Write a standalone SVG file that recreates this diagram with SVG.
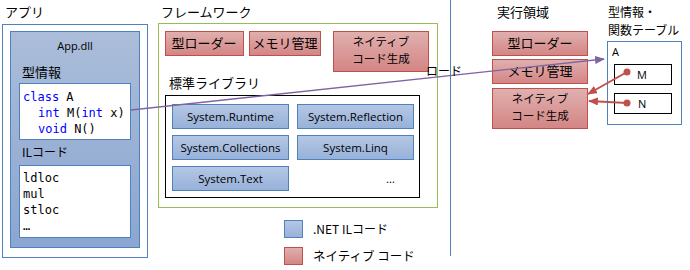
<svg xmlns="http://www.w3.org/2000/svg" width="690" height="270" viewBox="0 0 690 270">
<defs>
<linearGradient id="gBlue" x1="0" y1="0" x2="0" y2="1"><stop offset="0" stop-color="#b5c7e4"/><stop offset="1" stop-color="#97b1d9"/></linearGradient>
<linearGradient id="gRed" x1="0" y1="0" x2="0" y2="1"><stop offset="0" stop-color="#e0b0af"/><stop offset="1" stop-color="#d38584"/></linearGradient>
<linearGradient id="gDll" x1="0" y1="0" x2="0" y2="1"><stop offset="0" stop-color="#abbdd9"/><stop offset="1" stop-color="#8aa6d1"/></linearGradient>
<marker id="arP" markerWidth="10" markerHeight="8" refX="9" refY="4" orient="auto" markerUnits="userSpaceOnUse"><path d="M0,0 L10,4 L0,8 Z" fill="#8064a2"/></marker>
<marker id="arR" markerWidth="10" markerHeight="8" refX="9" refY="4" orient="auto" markerUnits="userSpaceOnUse"><path d="M0,0 L10,4 L0,8 Z" fill="#c0504d"/></marker>
</defs>
<style>
text{font-family:"Noto Sans CJK JP","Noto Sans",sans-serif;fill:#000}
.h{font-size:13px}
.h2{font-size:11.5px}
.lat{font-family:"Open Sans","Noto Sans",sans-serif;font-size:11.5px}
.code{font-family:"DejaVu Sans Mono","Liberation Mono",monospace;font-size:12px}
.kw{fill:#0000ff}
.il{fill:url(#gBlue);stroke:#4f81bd;stroke-width:1}
.nat{fill:url(#gRed);stroke:#c0504d;stroke-width:1}
.wb{fill:#fff;stroke:#4f81bd;stroke-width:1}
.bk{fill:#fff;stroke:#000;stroke-width:1}
.c{text-anchor:middle}
</style>
<rect width="690" height="270" fill="#fff"/>

<g id="app">
<text class="h" x="5" y="17">アプリ</text>
<rect x="2.5" y="24.5" width="145" height="233" fill="#fff" stroke="#4f81bd"/>
<rect x="10.5" y="31.5" width="129" height="216" fill="url(#gDll)" stroke="#4f81bd"/>
<text class="lat c" x="75" y="50" style="font-size:11px">App.dll</text>
<text class="h" x="22" y="77">型情報</text>
<rect class="wb" x="19.5" y="83.5" width="111" height="56"/>
<text class="code" x="23" y="101"><tspan class="kw">class</tspan> A</text>
<text class="code" x="38" y="117"><tspan class="kw">int</tspan> M(<tspan class="kw">int</tspan> x)</text>
<text class="code" x="38" y="133"><tspan class="kw">void</tspan> N()</text>
<text x="22" y="157" style="font-size:12px">ILコード</text>
<rect class="wb" x="19.5" y="165.5" width="111" height="72"/>
<text class="code" x="23" y="182">ldloc</text>
<text class="code" x="23" y="198">mul</text>
<text class="code" x="23" y="214">stloc</text>
<text class="code" x="23" y="230">…</text>
</g>

<g id="framework">
<text class="h" x="161" y="17">フレームワーク</text>
<rect x="158.5" y="23.5" width="279" height="184" fill="#fff" stroke="#9bbb59"/>
<rect class="nat" x="165.5" y="31.5" width="78" height="24"/>
<text class="h c" x="204" y="48">型ローダー</text>
<rect class="nat" x="249.5" y="31.5" width="71" height="24"/>
<text class="h c" x="285" y="48">メモリ管理</text>
<rect class="nat" x="333.5" y="31.5" width="95" height="40"/>
<text class="h2 c" x="381" y="46">ネイティブ<tspan x="381" dy="17">コード生成</tspan></text>
<text class="h" x="169" y="88">標準ライブラリ</text>
<rect class="bk" x="165.5" y="95.5" width="254" height="102"/>
<rect class="il" x="172.5" y="104.5" width="116" height="24"/>
<text class="lat c" x="230.5" y="120.5">System.Runtime</text>
<rect class="il" x="297.5" y="104.5" width="116" height="24"/>
<text class="lat c" x="355.5" y="120.5">System.Reflection</text>
<rect class="il" x="172.5" y="135.5" width="116" height="24"/>
<text class="lat c" x="230.5" y="151.5">System.Collections</text>
<rect class="il" x="297.5" y="135.5" width="116" height="24"/>
<text class="lat c" x="355.5" y="151.5">System.Linq</text>
<rect class="il" x="172.5" y="166.5" width="116" height="24"/>
<text class="lat c" x="230.5" y="182.5">System.Text</text>
<text class="lat" x="386" y="183">…</text>
</g>

<g id="legend">
<rect class="il" x="284.5" y="220.5" width="18" height="17"/>
<text x="313" y="234" style="font-size:12px">.NET ILコード</text>
<rect class="nat" x="284.5" y="247.5" width="18" height="17"/>
<text x="313" y="261" style="font-size:12.5px">ネイティブ コード</text>
</g>

<line x1="450.5" y1="0" x2="450.5" y2="256" stroke="#4f81bd" stroke-width="1"/>

<g id="runtime">
<text class="h" x="497" y="17">実行領域</text>
<rect class="nat" x="492.5" y="31.5" width="95" height="24"/>
<text class="h c" x="540" y="48">型ローダー</text>
<rect class="nat" x="492.5" y="59.5" width="95" height="24"/>
<text class="h c" x="540" y="76">メモリ管理</text>
<rect class="nat" x="492.5" y="88.5" width="95" height="40"/>
<text class="h2 c" x="540" y="103">ネイティブ<tspan x="540" dy="17">コード生成</tspan></text>
</g>

<g id="typetable">
<text class="h2" x="608" y="17" style="font-size:12px">型情報・<tspan x="608" dy="17.5">関数テーブル</tspan></text>
<rect class="wb" x="607.5" y="41.5" width="74" height="83"/>
<text class="lat" x="612" y="56" style="font-size:11px">A</text>
<rect class="bk" x="614.5" y="64.5" width="57" height="20"/>
<text class="lat" x="637" y="79" style="font-size:11px">M</text>
<rect class="bk" x="614.5" y="93.5" width="57" height="20"/>
<text class="lat" x="638" y="108" style="font-size:11px">N</text>
</g>

<g id="connectors">
<line x1="131" y1="110" x2="604" y2="59" stroke="#8064a2" stroke-width="1.3" marker-end="url(#arP)"/>
<text x="426" y="76" style="font-size:12px">ロード</text>
<circle cx="627" cy="72" r="3.5" fill="#c0504d"/>
<line x1="627" y1="72" x2="588" y2="94" stroke="#c0504d" stroke-width="2" marker-end="url(#arR)"/>
<circle cx="627" cy="103" r="3.5" fill="#c0504d"/>
<line x1="627" y1="103" x2="589" y2="101" stroke="#c0504d" stroke-width="2" marker-end="url(#arR)"/>
</g>
</svg>
